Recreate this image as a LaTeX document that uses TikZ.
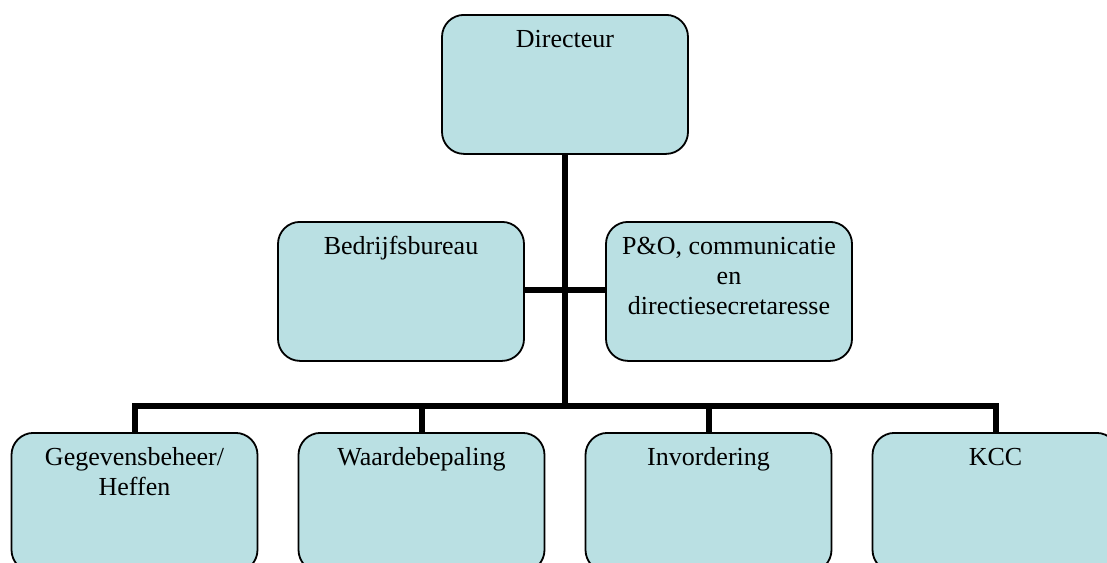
\documentclass[tikz,border=0pt]{standalone}
\usepackage{fontspec}
\setmainfont{Liberation Serif}
\definecolor{boxfill}{RGB}{186,224,227}
\begin{document}
\begin{tikzpicture}[x=1pt,y=-1pt,
  orgbox/.style={draw=black, line width=1.8pt, fill=boxfill, rounded corners=22pt,
    minimum width=246pt, inner xsep=4pt, inner ysep=0pt, align=center,
    text height=33pt, text depth=106pt,
    font=\fontsize{26}{30}\selectfont},
  twolines/.style={text height=63pt, text depth=76pt},
  threelines/.style={text height=93pt, text depth=46pt},
  conn/.style={draw=black, line width=6pt, line join=miter}]
\useasboundingbox (0,0) rectangle (1107,562);
\clip (0,0) rectangle (1107,562);
\node[orgbox] (dir) at (565,14) [anchor=north] {Directeur};
\node[orgbox] (bed) at (401,221) [anchor=north] {Bedrijfsbureau};
\node[orgbox, threelines] (pno) at (729,221) [anchor=north] {P\&O, communicatie\\en\\directiesecretaresse};
\node[orgbox, twolines] (geg) at (134.5,432) [anchor=north] {Gegevensbeheer/\\Heffen};
\node[orgbox] (waa) at (421.5,432) [anchor=north] {Waardebepaling};
\node[orgbox] (inv) at (708.5,432) [anchor=north] {Invordering};
\node[orgbox] (kcc) at (995.5,432) [anchor=north] {KCC};
\coordinate (bus) at (565,406);
\coordinate (mid) at (565,290);
\draw[conn] (dir.south) -- (bus);
\draw[conn] (bed.east |- mid) -- (pno.west |- mid);
\draw[conn] (geg.north) |- (bus) -| (kcc.north);
\draw[conn] (waa.north) -- (waa.north |- bus);
\draw[conn] (inv.north) -- (inv.north |- bus);
\end{tikzpicture}
\end{document}
